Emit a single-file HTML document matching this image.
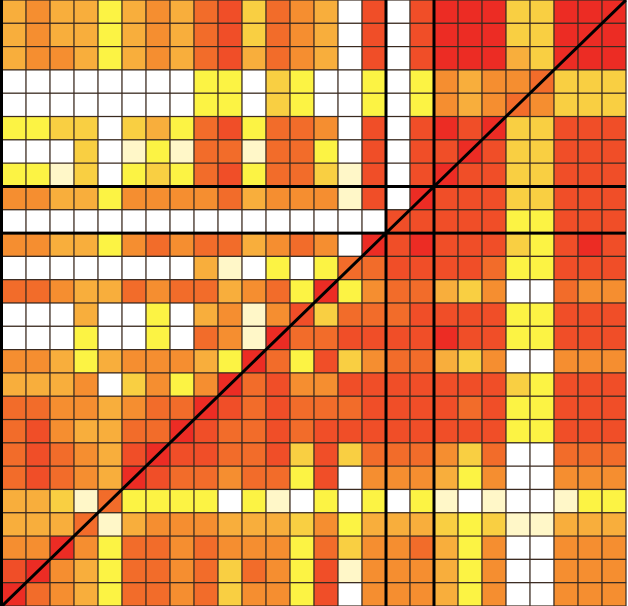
<!DOCTYPE html>
<html><head><meta charset="utf-8"><style>
html,body{margin:0;padding:0;background:#fff;}
svg{display:block;}
</style></head><body>
<svg id="chart" width="628" height="606" viewBox="0 0 628 606" xmlns="http://www.w3.org/2000/svg"></svg>
<script>
const rowValues = [
[4,5,4,4,2,4,5,4,6,7,3,6,5,4,0,7,0,7,8,8,8,3,3,8,8,8],
[4,5,4,4,2,4,5,4,6,7,3,6,5,4,0,7,0,7,8,8,8,3,3,8,8,8],
[4,5,5,4,2,4,5,4,6,7,4,6,5,4,0,7,0,7,8,8,8,4,3,8,8,8],
[0,0,0,0,0,0,0,0,2,2,0,3,2,0,0,2,0,2,5,4,5,5,6,3,3,3],
[0,0,0,0,0,0,0,0,2,2,0,3,2,0,0,2,0,2,5,4,5,6,5,3,3,3],
[2,2,3,3,0,3,4,2,6,7,2,6,6,5,0,7,0,7,8,7,8,3,3,7,7,7],
[0,0,0,3,0,1,2,1,6,6,1,6,6,2,0,7,0,7,7,8,7,3,3,7,7,7],
[2,2,1,3,0,2,3,2,6,7,2,6,6,3,1,7,0,7,8,7,7,3,3,7,7,7],
[5,5,4,4,2,5,5,5,5,6,4,5,5,5,1,7,0,8,7,7,7,3,3,7,7,7],
[0,0,0,0,0,0,0,0,0,0,0,0,0,0,0,0,7,7,7,7,7,2,2,7,7,7],
[5,5,4,4,2,5,6,5,6,6,4,5,6,5,0,8,7,8,7,7,7,3,2,7,8,7],
[0,0,0,0,0,0,0,0,4,1,0,2,0,2,6,6,7,7,7,7,6,2,2,7,7,7],
[6,6,5,4,4,6,5,6,6,4,5,6,2,8,2,5,6,6,4,3,5,0,0,6,5,5],
[0,0,0,4,0,0,2,0,4,5,1,5,7,3,6,6,6,7,7,7,7,2,2,7,7,7],
[0,0,0,2,0,0,2,0,6,5,1,8,6,6,7,7,7,7,8,7,7,2,2,7,7,7],
[5,5,4,2,4,5,5,5,4,2,8,6,2,7,3,5,6,6,4,3,5,0,0,5,5,5],
[4,4,4,5,0,3,5,2,5,8,6,7,5,5,7,7,7,7,7,7,7,3,2,7,7,7],
[6,6,5,5,4,5,6,6,8,7,6,7,6,6,6,7,7,7,7,6,7,2,2,7,7,7],
[6,7,5,4,4,6,6,8,7,6,6,7,6,7,7,7,7,7,7,7,7,2,2,7,7,7],
[6,7,6,5,4,7,8,7,7,6,6,7,3,7,3,6,6,6,5,3,6,0,0,6,6,6],
[6,7,6,5,4,8,7,6,6,5,6,6,2,7,0,5,5,5,4,2,5,0,0,5,5,5],
[4,4,3,1,6,2,2,2,2,0,2,1,0,2,0,2,0,2,1,0,1,0,0,1,2,2],
[4,4,4,6,1,4,5,5,5,4,4,4,3,5,2,4,4,4,3,2,3,1,1,4,4,4],
[5,5,8,5,2,6,6,5,6,5,5,5,2,6,3,5,5,6,4,2,5,0,0,5,5,5],
[7,8,5,4,2,6,6,5,6,3,6,5,2,7,1,5,5,5,4,2,5,0,0,5,5,5],
[8,6,5,4,2,6,6,5,6,3,5,5,2,7,0,5,5,5,4,2,5,0,0,5,5,5]
];
const colorLevels = ["#ffffff","#fff7c8","#fcf344","#f9cf42","#f8ae3c","#f58e30","#f26c2a","#f04e28","#ec2c24"];
const boundaryCols = [16,18];
const boundaryRows = [8,10];

const svg = document.getElementById('chart');
const NS = 'http://www.w3.org/2000/svg';
const x0 = 2, y0 = 0, W = 624, H = 606;
const nC = rowValues[0].length, nR = rowValues.length;
const cw = W / nC, ch = H / nR;
const xPos = c => x0 + c * cw;
const yPos = r => y0 + r * ch;

for (let r = 0; r < nR; r++) {
  for (let c = 0; c < nC; c++) {
    const rect = document.createElementNS(NS, 'rect');
    rect.setAttribute('x', xPos(c));
    rect.setAttribute('y', yPos(r));
    rect.setAttribute('width', cw);
    rect.setAttribute('height', ch);
    rect.setAttribute('fill', colorLevels[rowValues[r][c]]);
    rect.setAttribute('stroke', '#3a2a20');
    rect.setAttribute('stroke-width', '1.2');
    
    
    svg.appendChild(rect);
  }
}
boundaryCols.forEach(c => {
  const l = document.createElementNS(NS, 'line');
  l.setAttribute('x1', xPos(c)); l.setAttribute('x2', xPos(c));
  l.setAttribute('y1', 0); l.setAttribute('y2', H);
  l.setAttribute('stroke', '#000'); l.setAttribute('stroke-width', '3');
  
  
  svg.appendChild(l);
});
boundaryRows.forEach(r => {
  const l = document.createElementNS(NS, 'line');
  l.setAttribute('x1', 0); l.setAttribute('x2', x0 + W);
  l.setAttribute('y1', yPos(r)); l.setAttribute('y2', yPos(r));
  l.setAttribute('stroke', '#000'); l.setAttribute('stroke-width', '3');
  
  
  svg.appendChild(l);
});
const d = document.createElementNS(NS, 'line');
d.setAttribute('x1', xPos(0)); d.setAttribute('y1', yPos(nR));
d.setAttribute('x2', xPos(nC)); d.setAttribute('y2', yPos(0));
d.setAttribute('stroke', '#000'); d.setAttribute('stroke-width', '3');


svg.appendChild(d);
const b = document.createElementNS(NS, 'line');
b.setAttribute('x1', 1.5); b.setAttribute('y1', 0);
b.setAttribute('x2', 1.5); b.setAttribute('y2', H);
b.setAttribute('stroke', '#000'); b.setAttribute('stroke-width', '3');


svg.appendChild(b);
</script>
</body></html>
